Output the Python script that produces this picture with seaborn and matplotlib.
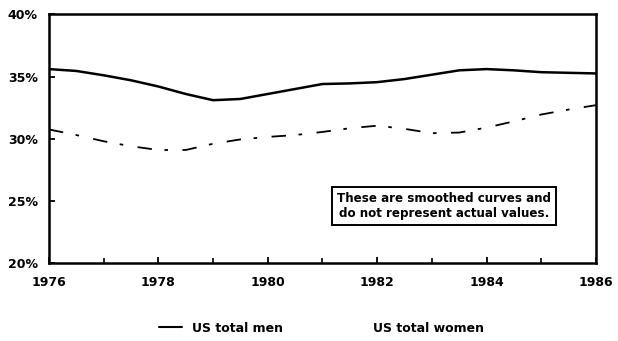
import matplotlib
matplotlib.use("Agg")
import matplotlib.pyplot as plt
from matplotlib.lines import Line2D
import numpy as np
import pandas as pd
import seaborn as sns

# Smoothed shares (percent), read at half-year steps
years = [1976.0, 1976.5, 1977.0, 1977.5, 1978.0, 1978.5, 1979.0, 1979.5, 1980.0,
         1980.5, 1981.0, 1981.5, 1982.0, 1982.5, 1983.0, 1983.5, 1984.0, 1984.5,
         1985.0, 1985.5, 1986.0]
men = [35.6, 35.45, 35.1, 34.7, 34.2, 33.6, 33.1, 33.2, 33.6, 34.0, 34.4, 34.45,
       34.55, 34.8, 35.15, 35.5, 35.6, 35.5, 35.35, 35.3, 35.25]
women = [30.75, 30.3, 29.8, 29.4, 29.1, 29.1, 29.6, 29.95, 30.15, 30.3, 30.55,
         30.85, 31.05, 30.8, 30.45, 30.5, 30.9, 31.4, 31.95, 32.35, 32.7]

series_names = ["US total men", "US total women"]
y_ticks = [20, 25, 30, 35, 40]
y_tick_labels = ["20%", "25%", "30%", "35%", "40%"]
x_major = [1976, 1978, 1980, 1982, 1984, 1986]
x_minor = [1977, 1979, 1981, 1983, 1985]
note = "These are smoothed curves and\ndo not represent actual values."

df = pd.DataFrame({
    "year": years * 2,
    "share": men + women,
    "group": [series_names[0]] * len(years) + [series_names[1]] * len(years),
})

sns.set_theme(style="ticks")
plt.rcParams["font.family"] = ["DejaVu Sans"]
plt.rcParams["font.weight"] = "bold"
plt.rcParams["text.color"] = "black"

fig = plt.figure(figsize=(6.18, 3.41), dpi=100)
ax = fig.add_axes([0.0793, 0.228, 0.885, 0.730])

sns.lineplot(data=df[df["group"] == series_names[0]], x="year", y="share",
             color="black", linewidth=1.8, ax=ax, legend=False)
sns.lineplot(data=df[df["group"] == series_names[1]], x="year", y="share",
             color="black", linewidth=1.3, ax=ax, legend=False)
ax.lines[1].set_dashes((8, 7, 2, 8))

ax.set_xlim(1976, 1986)
ax.set_ylim(20, 40)
ax.set_xlabel("")
ax.set_ylabel("")

ax.set_yticks(y_ticks)
ax.set_yticklabels(y_tick_labels)
ax.set_xticks(x_major)
ax.set_xticklabels([str(v) for v in x_major])
ax.set_xticks(x_minor, minor=True)

for side in ["left", "right", "top", "bottom"]:
    ax.spines[side].set_visible(True)
    ax.spines[side].set_linewidth(1.8)
    ax.spines[side].set_color("black")

ax.tick_params(axis="both", which="major", direction="in", length=4, width=1.3,
               colors="black", labelsize=9)
ax.tick_params(axis="x", which="minor", direction="in", length=3.5, width=1.2,
               color="black")
ax.tick_params(axis="x", which="major", pad=9)
ax.tick_params(axis="y", which="major", pad=8)
for lab in ax.get_xticklabels() + ax.get_yticklabels():
    lab.set_fontweight("bold")

ax.text(1983.22, 24.6, note, ha="center", va="center", fontsize=8.6,
        fontweight="bold", linespacing=1.2, color="black",
        bbox=dict(boxstyle="square,pad=0.45", facecolor="white",
                  edgecolor="black", linewidth=1.4))

handles = [Line2D([], [], color="black", linewidth=1.5),
           Line2D([], [], color="none", linewidth=0)]
fig.legend(handles, series_names, loc="lower center", ncol=2, frameon=False,
           bbox_to_anchor=(0.52, -0.015), handlelength=1.8, handletextpad=0.8,
           columnspacing=4.6, prop={"weight": "bold", "size": 9},
           labelcolor="black")

fig.savefig("out.png", dpi=100, facecolor="white")
